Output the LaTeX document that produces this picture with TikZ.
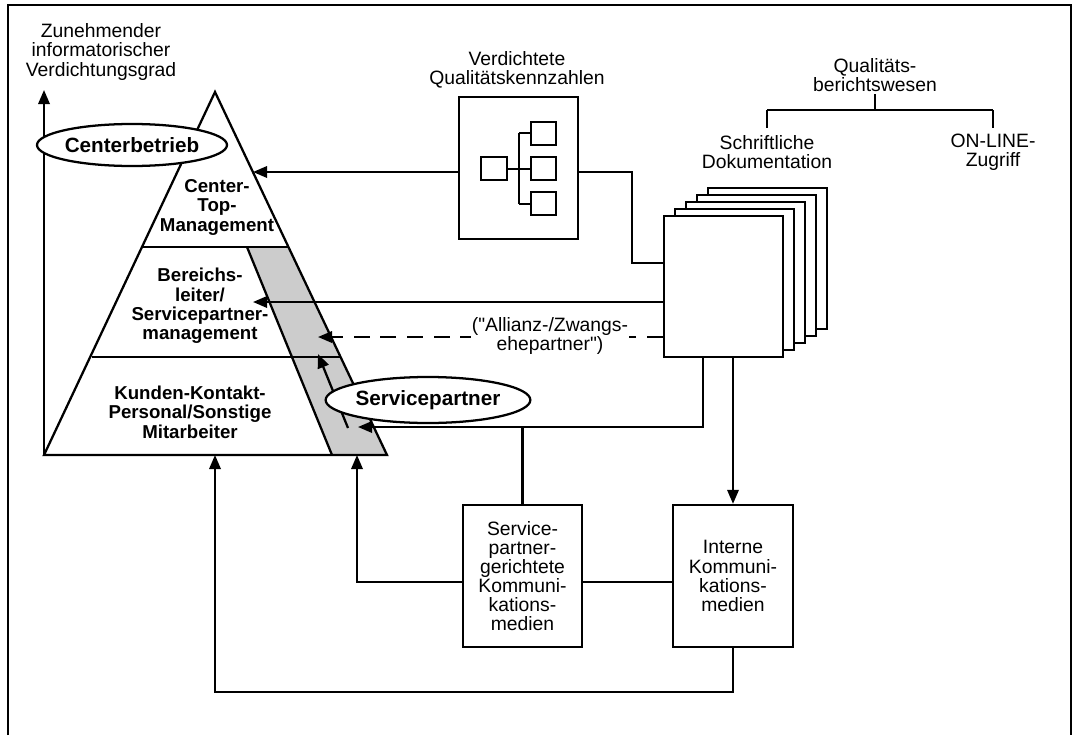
\documentclass[tikz,border=0pt]{standalone}
\usepackage{fontspec}
\setmainfont{Liberation Sans}[Ligatures=TeXOff]
\usetikzlibrary{arrows.meta,shapes.geometric}

\begin{document}
\begin{tikzpicture}[x=0.75pt,y=-0.75pt,line width=1.7pt,
    arr/.style={-{Triangle[length=10.5pt,width=8.5pt]}},
    lbl/.style={align=center,inner sep=1pt,font=\fontsize{14.5}{14.6}\selectfont},
    bld/.style={align=center,inner sep=1pt,font=\bfseries\fontsize{14}{14.6}\selectfont},
    ell/.style={ellipse,draw,fill=white,inner sep=0pt,font=\bfseries\fontsize{15.5}{16}\selectfont},
    medbox/.style={draw,align=center,minimum width=89.25pt,minimum height=106.5pt,font=\fontsize{14.5}{14.3}\selectfont},
    page/.style={draw,fill=white,minimum width=89.25pt,minimum height=105.75pt}]
  \useasboundingbox (0,0) rectangle (1077,735);
  % frame
  \draw[line width=1pt] (8,735) -- (8,5) -- (1071,5) -- (1071,735);
  % axis
  \draw[arr] (44,455) -- (44,90);
  \node[lbl] (ax) at (101,52) {Zunehmender\\informatorischer\\Verdichtungsgrad};
  % pyramid
  \fill[gray!40] (247,247) -- (288.5,247) -- (387,455) -- (332,455) -- cycle;
  \draw (44,455) -- (215,92) -- (387,455) -- cycle;
  \draw (143,247) -- (288.5,247);
  \draw (92,357) -- (340.7,357);
  \draw (247,247) -- (332,455);
  \node[bld] (ctop) at (217,207) {Center-\\Top-\\Management};
  \node[bld] (bsm) at (200,306) {Bereichs-\\leiter/\\Servicepartner-\\management};
  \node[bld] (kkp) at (190,412) {Kunden-Kontakt-\\Personal/Sonstige\\Mitarbeiter};
  % arrow targets at the pyramid
  \coordinate (ctm) at (253,172);
  \coordinate (bsl) at (253,302);
  \coordinate (alz) at (318,337);
  \coordinate (spt) at (358,427);
  \coordinate (bkk) at (215,455);
  \coordinate (bsp) at (357,455);
  \draw[arr] (348,428) -- (318,354);
  % ellipses
  \node[ell,minimum width=127.5pt,minimum height=31.5pt] (cb) at (132,145) {Centerbetrieb};
  \node[ell,minimum width=127.5pt,minimum height=34.5pt] (sep) at (428,400) {Servicepartner};
  % condensed key figures
  \node[lbl] (qkzl) at (517,70) {Verdichtete\\Qualitätskennzahlen};
  \node[draw,minimum width=89.25pt,minimum height=106.5pt] (qkz) at (518.5,168) {};
  \begin{scope}[line width=1.1pt]
    \draw (481,157) rectangle (507,180);
    \foreach \y in {122,157,192}{
      \draw (531,\y) rectangle (556,{\y+23});
    }
    \draw (507,169) -- (531,169) (519,133) -- (519,204) (519,133) -- (531,133) (519,204) -- (531,204);
  \end{scope}
  % reporting
  \node[lbl] (qbw) at (875,75) {Qualitäts-\\berichtswesen};
  \node[lbl] (sd) at (767,152) {Schriftliche\\Dokumentation};
  \node[lbl] (ol) at (993,152) {ON-LINE-\\Zugriff};
  \coordinate (tr) at (0,110);
  \draw (qbw.south) -- (qbw.south |- tr);
  \draw (sd.north |- tr) -- (ol.north |- tr);
  \draw (sd.north |- tr) -- ++(0,18);
  \draw (ol.north |- tr) -- ++(0,18);
  % stack of pages
  \foreach \k in {4,3,2,1}{
    \node[page] at ({723.5+11*\k},{286.5-7*\k}) {};
  }
  \node[page] (doc) at (723.5,286.5) {};
  % media boxes
  \node[medbox] (sp) at (522.5,576) {Service-\\partner-\\gerichtete\\Kommuni-\\kations-\\medien};
  \node[medbox,minimum width=90pt] (ik) at (733,576) {Interne\\Kommuni-\\kations-\\medien};
  % connectors
  \draw[arr] (qkz.west |- ctm) -- (ctm);
  \coordinate (qd) at (632,263);
  \draw (qkz.east |- ctm) -| (qd) -- (qd -| doc.west);
  \draw[arr] (bsl -| doc.west) -- (bsl);
  \draw[arr,dash pattern=on 12pt off 8pt] (alz -| doc.west) -- (alz);
  \node[lbl,fill=white] (alt) at (550,336) {("Allianz-/Zwangs-\\ehepartner")};
  \coordinate (kx) at (703,427);
  \draw[arr] (kx |- doc.south) -- (kx) -- (spt);
  \draw (sp.north) -- (sp.north |- kx);
  \draw[arr] (ik.north |- doc.south) -- (ik.north);
  \coordinate (mid) at (0,582);
  \draw (sp.east |- mid) -- (ik.west |- mid);
  \draw[arr] (sp.west |- mid) -| (bsp);
  \coordinate (low) at (0,692);
  \draw[arr] (ik.south) -- (ik.south |- low) -| (bkk);
\end{tikzpicture}
\end{document}
